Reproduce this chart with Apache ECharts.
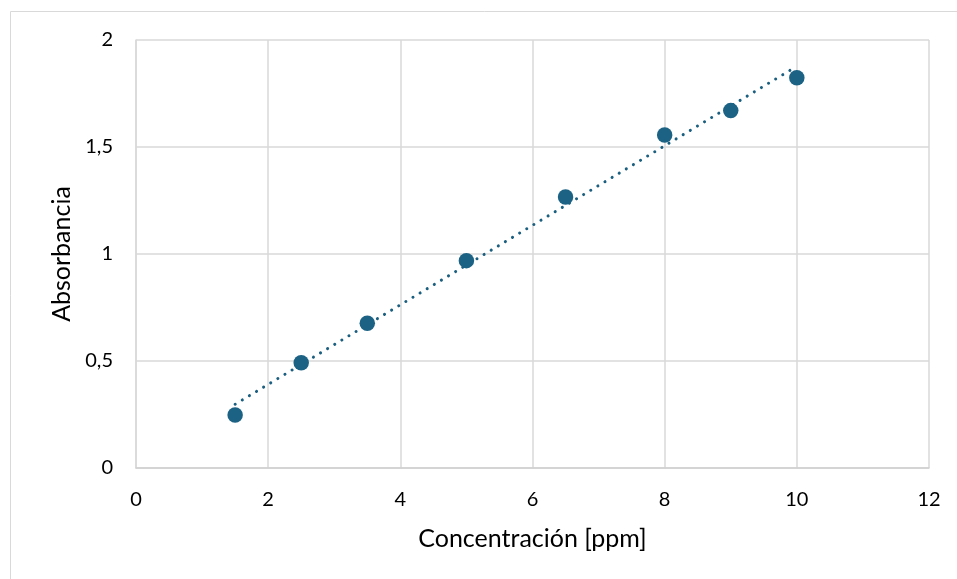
<!DOCTYPE html>
<html>
<head>
<meta charset="utf-8">
<script src="https://cdn.jsdelivr.net/npm/echarts@6/dist/echarts.min.js"></script>
<style>html,body{margin:0;padding:0;background:#fff}#c{width:957px;height:579px}</style>
</head>
<body>
<div id="c"></div>
<script>
const concentration = [1.5, 2.5, 3.5, 5, 6.5, 8, 9, 10];
const absorbance = [0.248, 0.492, 0.676, 0.969, 1.266, 1.556, 1.670, 1.824];
const xTicks = [0, 2, 4, 6, 8, 10, 12];
const yTicks = [0, 0.5, 1, 1.5, 2];

// least-squares trendline through the measured points
const n = concentration.length;
const mx = concentration.reduce((a, b) => a + b, 0) / n;
const my = absorbance.reduce((a, b) => a + b, 0) / n;
let sxy = 0, sxx = 0;
for (let i = 0; i < n; i++) { sxy += (concentration[i] - mx) * (absorbance[i] - my); sxx += (concentration[i] - mx) ** 2; }
const slope = sxy / sxx, intercept = my - slope * mx;
const xMin = Math.min(...concentration), xMax = Math.max(...concentration);
const trend = [[xMin, intercept + slope * xMin], [xMax, intercept + slope * xMax]];

const font = 'Lato, "Open Sans", sans-serif';
const chart = echarts.init(document.getElementById('c'), null, {renderer: 'canvas'});
chart.setOption({
  animation: false,
  graphic: [{type: 'rect', shape: {x: 10.5, y: 11.5, width: 1000, height: 1000}, style: {fill: 'none', stroke: '#d9d9d9', lineWidth: 1}, silent: true}],
  grid: {left: 136, top: 40, right: 28, bottom: 111},
  xAxis: {
    type: 'value', min: 0, max: 12, interval: 2,
    name: 'Concentración [ppm]', nameLocation: 'middle', nameGap: 58,
    nameTextStyle: {fontFamily: font, fontSize: 25, color: '#000'},
    axisLine: {show: true, lineStyle: {color: '#cfcfcf', width: 1.5}},
    axisTick: {show: false},
    axisLabel: {fontFamily: font, fontSize: 20, color: '#000', margin: 22, formatter: v => xTicks.includes(v) ? String(v) : ''},
    splitLine: {show: true, lineStyle: {color: '#d9d9d9', width: 1.5}}
  },
  yAxis: {
    type: 'value', min: 0, max: 2, interval: 0.5,
    name: 'Absorbancia', nameLocation: 'middle', nameGap: 61,
    nameTextStyle: {fontFamily: font, fontSize: 25, color: '#000'},
    axisLine: {show: true, lineStyle: {color: '#d9d9d9', width: 1.5}},
    axisTick: {show: false},
    axisLabel: {fontFamily: font, fontSize: 20, color: '#000', margin: 23, formatter: v => yTicks.includes(v) ? String(v).replace('.', ',') : ''},
    splitLine: {show: true, lineStyle: {color: '#d9d9d9', width: 1.5}}
  },
  series: [
    {
      type: 'line', data: trend, symbol: 'none', silent: true, z: 2,
      lineStyle: {color: '#1b5f80', width: 3, type: [0.1, 8.2], cap: 'round'}
    },
    {
      type: 'scatter', data: concentration.map((x, i) => [x, absorbance[i]]),
      symbol: 'circle', symbolSize: 15.5, z: 3,
      itemStyle: {color: '#1b6285', opacity: 1}
    }
  ]
});
</script>
</body>
</html>
